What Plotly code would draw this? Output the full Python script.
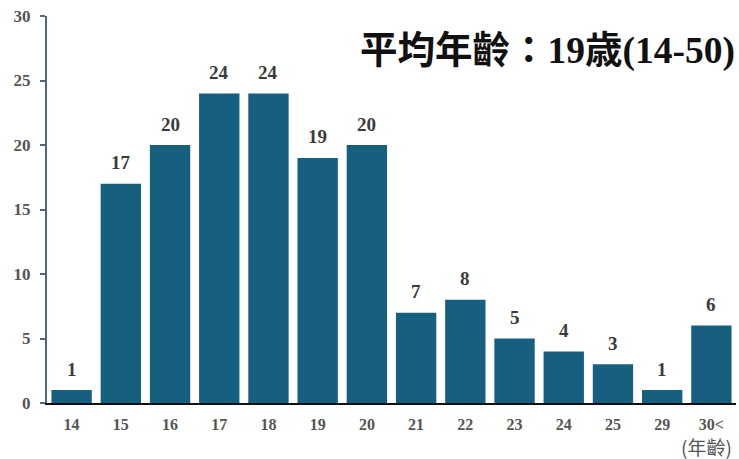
import plotly.graph_objects as go

# Age distribution
ages = ["14", "15", "16", "17", "18", "19", "20", "21", "22", "23", "24", "25", "29", "30<"]
counts = [1, 17, 20, 24, 24, 19, 20, 7, 8, 5, 4, 3, 1, 6]
y_ticks = [0, 5, 10, 15, 20, 25, 30]

BAR_COLOR = "#175f7f"
SERIF = "Liberation Serif, Times New Roman, serif"

idx = list(range(len(ages)))

fig = go.Figure(
    go.Bar(
        x=idx,
        y=counts,
        marker=dict(color=BAR_COLOR, line=dict(width=0)),
        width=0.82,
        hovertext=ages,
        hoverinfo="text+y",
    )
)

# value labels above each bar
for i, c in zip(idx, counts):
    fig.add_annotation(
        x=i, y=c, text=f"<b>{c}</b>", showarrow=False,
        yanchor="middle", yshift=21,
        font=dict(family=SERIF, size=19, color="#3a3a3a"),
    )

# headline
fig.add_annotation(
    xref="paper", yref="paper", x=1.002, y=0.91, xanchor="right", yanchor="middle",
    text="<b>平均年齡：19歳(14-50)</b>", showarrow=False,
    font=dict(family="Liberation Serif, Noto Sans CJK TC, serif", size=37.5, color="#111111"),
)

# axis unit label
fig.add_annotation(
    xref="paper", yref="paper", x=0.957, y=-0.112, xanchor="center", yanchor="middle",
    text="(年齡)", showarrow=False, borderpad=0,
    font=dict(family="Noto Sans CJK TC, sans-serif", size=19, color="#555555"),
)

fig.update_layout(
    width=739, height=459,
    margin=dict(l=47, r=3, t=16, b=56),
    paper_bgcolor="white", plot_bgcolor="white",
    showlegend=False,
    xaxis=dict(
        range=[-0.5, len(ages) - 0.5],
        tickvals=idx, ticktext=ages,
        showline=True, linecolor="#111111", linewidth=2,
        ticks="", showgrid=False, zeroline=False,
        tickfont=dict(family=SERIF, size=16, color="#555555", weight="bold"),
        ticklabelstandoff=6,
    ),
    yaxis=dict(
        range=[0, 30], tickvals=y_ticks,
        showline=True, linecolor="#4d6b7a", linewidth=2,
        ticks="outside", ticklen=5, tickcolor="#4d6b7a", tickwidth=1.5,
        showgrid=False, zeroline=False,
        tickfont=dict(family=SERIF, size=17, color="#555555", weight="bold"),
        ticklabelstandoff=6,
    ),
)

fig.write_html("out.html")
